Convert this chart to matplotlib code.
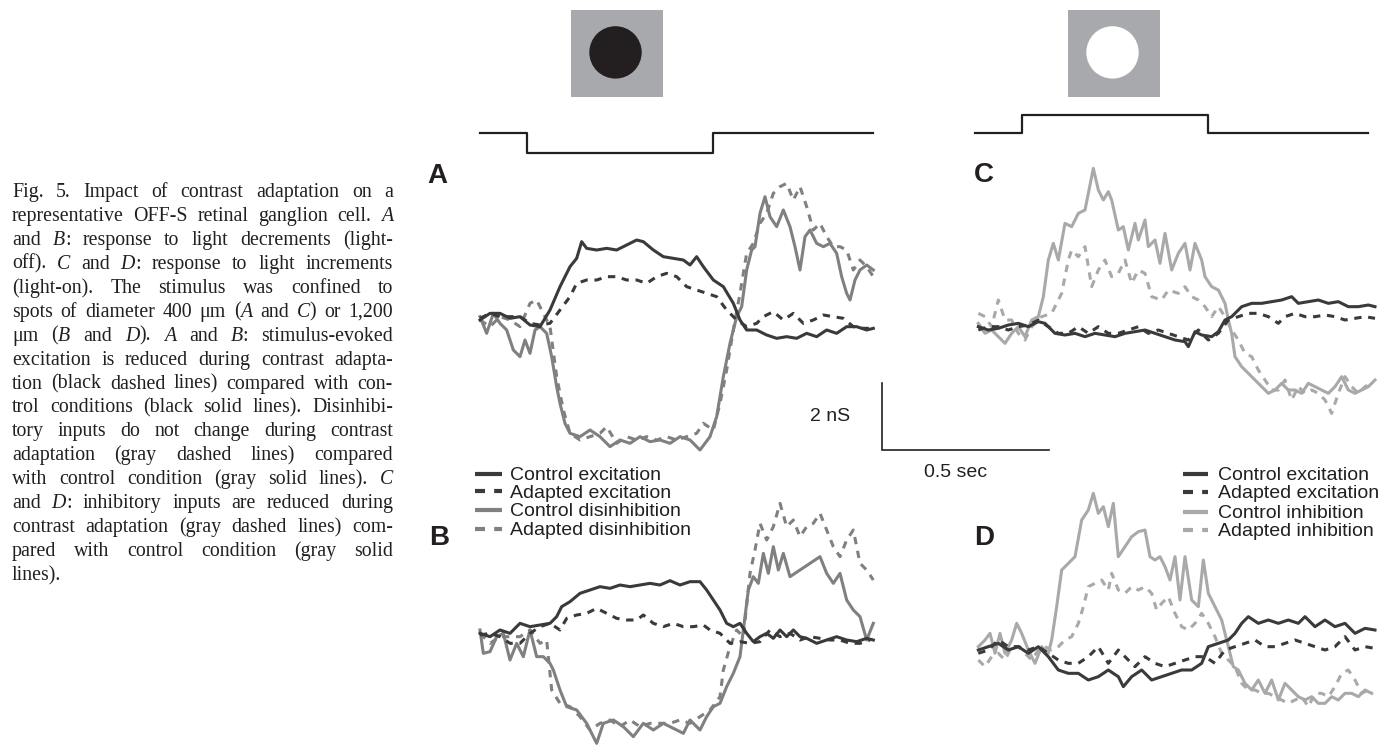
import matplotlib
matplotlib.use("Agg")
import matplotlib.pyplot as plt
from matplotlib.patches import Rectangle, Circle

# ---------------- data (time in ms, conductance in nS) ----------------
stim_t = [0, 142, 142, 700, 700, 1180]
stim_off_level = [1, 1, 0, 0, 1, 1]   # light decrement (A, B)
stim_on_level = [0, 0, 1, 1, 0, 0]    # light increment (C, D)

# Panel A
A_ce_t = [0,30,60,90,120,150,180,210,240,270,290,305,320,350,380,410,440,470,490,520,550,580,610,630,650,670,700,730,760,780,800,830,860,890,920,950,980,1010,1040,1070,1100,1130,1160,1180]
A_ce_v = [0,0.2,0.2,0.05,0.1,-0.15,-0.2,0.3,1.0,1.6,1.85,2.35,2.15,2.1,2.15,2.1,2.25,2.4,2.35,2.1,1.9,1.85,1.8,1.65,1.9,1.6,1.2,1.0,0.5,0,-0.3,-0.3,-0.45,-0.55,-0.5,-0.55,-0.4,-0.5,-0.3,-0.4,-0.2,-0.2,-0.3,-0.25]
A_ae_t = [0,30,60,90,120,150,180,210,240,270,290,320,350,380,410,440,470,500,530,560,590,620,650,680,710,740,770,800,830,850,880,910,940,970,1000,1030,1060,1090,1120,1150,1180]
A_ae_v = [0.05,0.2,0.1,0.1,0.1,-0.1,-0.15,-0.1,0.3,0.7,1.1,1.2,1.2,1.3,1.3,1.2,1.2,1.1,1.3,1.4,1.3,1.0,0.9,0.8,0.7,0.3,0,-0.2,-0.1,0.1,0.25,0,0.2,-0.1,0,0.15,0.1,0.05,-0.2,-0.25,-0.25]
A_cd_t = [0,20,40,60,80,100,120,135,150,165,180,200,215,230,240,255,270,300,330,360,390,420,450,480,510,540,570,600,630,660,690,710,730,750,770,785,800,815,825,840,855,870,890,910,930,945,960,975,990,1010,1030,1050,1070,1085,1100,1110,1125,1140,1160,1180]
A_cd_v = [0.1,-0.4,0.2,-0.1,-0.3,-0.9,-1.1,-0.6,-1.0,-0.3,-0.2,-0.4,-1.1,-2.0,-2.5,-3.1,-3.4,-3.5,-3.3,-3.5,-3.8,-3.6,-3.7,-3.5,-3.65,-3.6,-3.7,-3.5,-3.6,-3.9,-3.5,-2.9,-1.7,-0.7,0.1,0.4,1.5,2.1,2.2,3.2,3.7,3.1,2.8,3.3,2.8,2.2,1.5,2.5,2.7,2.3,2.2,2.3,2.0,1.3,0.8,0.6,1.2,1.5,1.65,1.5]
A_ad_t = [0,30,60,90,120,150,170,185,210,230,250,270,300,330,360,380,410,440,470,500,530,560,590,620,650,670,700,720,740,760,780,800,820,840,860,880,900,920,940,960,980,1000,1020,1040,1060,1080,1100,1120,1140,1160,1180]
A_ad_v = [0,-0.2,0.1,0,-0.2,0.5,0.6,0.3,-0.2,-1.7,-2.7,-3.4,-3.6,-3.5,-3.4,-3.2,-3.7,-3.5,-3.6,-3.5,-3.6,-3.5,-3.6,-3.5,-3.4,-3.1,-3.3,-2.5,-1.5,-0.3,0.8,2.0,2.3,2.9,3.2,3.8,4.0,4.1,3.6,4.0,3.4,2.7,2.9,2.5,2.2,2.2,2.1,1.5,1.8,1.6,1.3]

# Panel B
B_ce_t = [0,30,60,90,120,150,180,210,230,245,270,300,330,360,390,420,450,480,510,540,570,600,630,660,680,700,720,740,760,780,800,820,840,860,880,900,920,940,960,980,1010,1040,1070,1100,1130,1160,1180]
B_ce_v = [0.05,-0.05,0.15,0.05,0.35,0.25,0.3,0.35,0.55,0.85,1.0,1.25,1.35,1.45,1.4,1.5,1.45,1.5,1.55,1.5,1.63,1.5,1.6,1.6,1.35,1.05,0.75,0.35,0.25,0.35,0.05,-0.2,-0.05,0.05,-0.1,0.15,-0.05,0.15,-0.05,-0.1,-0.25,-0.15,-0.05,-0.15,-0.2,-0.1,-0.15]
B_ae_t = [0,30,60,90,120,150,180,210,240,260,290,320,350,380,410,440,470,490,520,550,580,610,640,670,690,720,750,780,810,840,870,900,930,960,990,1020,1050,1080,1110,1140,1170]
B_ae_v = [0,0.05,-0.05,-0.25,-0.25,0.05,0.25,0.35,0.15,0.5,0.6,0.65,0.8,0.65,0.5,0.45,0.45,0.6,0.35,0.25,0.35,0.25,0.25,0.3,0.15,0.05,-0.25,-0.2,-0.25,-0.2,0.15,-0.05,0.05,-0.15,-0.05,-0.1,-0.15,-0.15,-0.25,-0.25,-0.15]
B_cd_t = [0,10,30,50,70,90,110,130,150,170,190,210,220,240,260,290,320,350,370,400,430,460,490,520,550,580,610,630,660,680,700,720,740,760,780,790,805,820,835,850,865,880,895,910,930,960,990,1020,1040,1060,1080,1100,1120,1140,1160,1180]
B_cd_v = [0.15,-0.55,-0.5,-0.05,0.05,-0.75,-0.25,-0.65,0.15,-0.65,-0.65,-0.85,-1.05,-1.65,-2.15,-2.25,-2.65,-3.25,-2.65,-2.55,-2.75,-3.05,-2.65,-2.85,-2.65,-2.8,-2.95,-2.55,-2.85,-2.45,-2.15,-2.05,-1.55,-1.15,-0.65,0.15,1.35,1.75,1.55,2.45,1.85,2.65,1.95,2.45,1.75,1.95,2.15,2.35,1.85,1.55,1.85,1.05,0.75,0.55,-0.15,0.35]
B_ad_t = [0,30,60,90,120,150,180,200,215,240,270,300,330,360,390,420,450,480,510,540,570,600,630,660,690,720,730,750,770,790,810,825,840,860,880,900,920,940,960,980,1000,1020,1040,1060,1080,1100,1120,1140,1160,1180]
B_ad_v = [0.05,-0.25,-0.05,-0.05,-0.05,0.15,-0.25,-0.15,-1.65,-2.05,-2.15,-2.45,-2.85,-2.65,-2.55,-2.75,-2.55,-2.75,-2.65,-2.65,-2.65,-2.55,-2.65,-2.45,-2.25,-1.85,-1.05,-0.35,0.15,-0.05,1.85,2.55,3.35,2.85,3.25,3.95,3.25,3.45,2.95,3.25,3.35,3.65,3.15,2.65,2.35,2.85,3.15,2.15,1.95,1.65]

# Panel C
C_ce_t = [10,40,70,100,130,160,190,210,240,270,300,330,360,390,420,450,480,510,540,570,600,630,640,660,680,710,730,750,770,800,830,860,890,920,950,970,1000,1030,1060,1090,1120,1150,1180,1200]
C_ce_v = [0,-0.1,-0.05,0.05,0.1,0,0.15,0.1,-0.2,-0.25,-0.2,-0.3,-0.2,-0.25,-0.3,-0.2,-0.15,-0.1,-0.2,-0.3,-0.4,-0.45,-0.6,-0.15,-0.25,-0.3,-0.15,0.2,0.3,0.6,0.7,0.7,0.75,0.8,0.9,0.7,0.75,0.8,0.7,0.75,0.6,0.6,0.65,0.6]
C_ae_t = [10,40,70,100,130,160,190,220,250,280,310,340,370,400,430,460,490,520,550,580,610,640,670,700,730,760,790,820,850,880,910,930,960,990,1020,1050,1080,1110,1140,1170,1200]
C_ae_v = [-0.1,0,0,-0.1,0,0.05,0.2,0,-0.2,-0.2,0,-0.2,0,-0.2,-0.2,-0.1,0,-0.2,-0.1,-0.2,-0.3,-0.4,-0.1,-0.4,-0.2,0.2,0.3,0.4,0.4,0.3,0.1,0.3,0.4,0.3,0.3,0.35,0.3,0.2,0.25,0.3,0.25]
C_ci_t = [10,30,50,70,90,110,130,150,170,190,205,220,235,250,270,290,310,330,355,370,385,400,410,430,445,460,480,490,510,520,540,555,570,590,610,630,645,660,680,690,710,730,750,760,770,780,800,820,840,860,880,900,920,940,960,980,1000,1020,1040,1060,1080,1100,1120,1140,1160,1180,1200]
C_ci_v = [0.1,-0.2,-0.1,-0.3,-0.5,-0.2,0,-0.3,0.2,0.3,0.9,2.0,2.5,2.0,3.1,3.0,3.4,3.5,4.75,4.1,3.8,4.05,3.8,2.9,3.0,2.3,3.1,2.6,3.2,2.4,2.6,1.9,2.8,1.7,2.2,2.5,1.7,2.5,2.0,1.5,1.2,1.1,0.7,0.2,-0.2,-0.9,-1.2,-1.4,-1.6,-1.8,-2.0,-1.9,-1.7,-1.9,-1.9,-2.0,-1.7,-1.8,-1.9,-2.0,-1.8,-1.5,-1.9,-2.0,-1.9,-1.8,-1.6]
C_ai_t = [10,30,50,70,90,110,130,150,170,200,230,260,280,290,310,330,350,370,390,410,430,450,470,490,510,530,560,580,610,630,650,670,690,710,730,750,770,790,810,830,850,870,890,910,930,950,970,990,1010,1030,1050,1070,1090,1110,1130,1150,1170,1190]
C_ai_v = [0.4,0.3,0,0.8,0.2,0.2,-0.2,-0.4,0,0.3,0.4,1.0,2.0,2.3,2.1,2.4,1.2,1.7,2.0,1.5,1.6,2.0,1.3,1.7,1.6,0.9,0.8,1.1,1.0,1.2,0.9,0.8,0.6,0.3,0.6,0.3,-0.1,-0.4,-0.8,-0.9,-1.3,-1.6,-1.9,-1.9,-1.6,-2.2,-1.8,-2.0,-1.9,-2.0,-2.2,-2.6,-2.0,-1.5,-1.8,-2.0,-1.8,-1.7]

# Panel D
D_ce_t = [10,40,70,100,130,160,190,220,250,280,310,340,370,400,430,445,470,500,530,560,590,620,650,680,700,730,760,780,800,820,850,880,910,940,970,990,1020,1050,1080,1110,1140,1170,1200]
D_ce_v = [-0.1,0,0.1,-0.1,0,-0.2,0,-0.3,-0.7,-0.8,-0.8,-1.0,-0.9,-0.7,-0.9,-1.2,-0.9,-0.7,-1.0,-0.9,-0.8,-0.7,-0.7,-0.5,0,0.1,0.2,0.4,0.7,0.9,0.7,0.8,0.7,0.8,0.7,0.9,0.6,0.8,0.6,0.7,0.4,0.55,0.5]
D_ae_t = [10,40,70,100,130,160,190,220,250,280,310,340,370,400,430,450,480,510,540,570,600,630,660,690,720,750,780,810,840,870,900,930,960,990,1020,1050,1080,1110,1140,1170,1200]
D_ae_v = [-0.2,-0.1,0.2,0,0,-0.1,0,-0.2,-0.4,-0.5,-0.5,-0.3,0,-0.5,-0.1,-0.3,-0.6,-0.3,-0.5,-0.6,-0.5,-0.4,-0.3,-0.3,-0.5,-0.1,0,0.1,0.2,0,0,0.1,0.2,0.1,0,-0.1,0,0.3,-0.1,0,-0.05]
D_ci_t = [10,30,45,60,75,90,110,125,140,160,180,200,220,230,245,260,280,300,320,340,355,370,385,400,415,430,450,470,490,510,525,540,555,570,585,600,615,630,650,670,685,700,720,740,760,775,790,810,830,850,870,890,910,930,950,970,990,1010,1030,1050,1070,1090,1110,1130,1150,1170,1190]
D_ci_v = [0,0.2,0.4,-0.2,0.4,-0.2,0.2,0.7,0.4,-0.1,-0.5,0,-0.2,0.2,1.2,2.3,2.5,2.7,3.8,4.1,4.6,4.0,4.2,3.6,4.3,2.7,3.0,3.3,3.45,3.5,2.7,2.6,2.7,2.4,2.0,2.7,1.4,2.7,1.4,1.2,2.6,1.6,1.2,0.8,0,-0.6,-0.7,-1.1,-1.3,-1.0,-1.4,-1.0,-1.6,-1.1,-1.3,-1.5,-1.6,-1.5,-1.7,-1.7,-1.5,-1.6,-1.4,-1.4,-1.5,-1.3,-1.4]
D_ai_t = [10,30,50,70,90,110,130,150,170,190,210,230,250,270,290,310,325,340,360,380,400,410,430,450,470,490,510,530,545,560,580,600,620,640,660,680,700,720,740,760,780,800,820,840,860,880,900,920,940,960,980,1000,1020,1040,1060,1080,1100,1120,1140,1160,1180]
D_ai_v = [-0.4,-0.6,-0.3,-0.2,-0.4,0,0,-0.2,-0.4,-0.1,0,-0.1,0,0.2,0.3,0.7,1.2,1.8,1.9,2.0,1.7,2.2,1.7,1.6,1.8,1.7,1.8,1.6,1.1,1.3,1.5,1.0,0.6,0.5,0.7,1.0,0.7,0.3,-0.2,-0.4,-0.6,-1.1,-1.3,-1.3,-1.4,-1.4,-1.5,-1.6,-1.7,-1.6,-1.5,-1.8,-1.4,-1.4,-1.5,-1.2,-0.8,-0.7,-1.0,-1.4,-1.3]

legend_left = ["Control excitation", "Adapted excitation", "Control disinhibition", "Adapted disinhibition"]
legend_right = ["Control excitation", "Adapted excitation", "Control inhibition", "Adapted inhibition"]
panel_letters = ["A", "B", "C", "D"]
scale_ms = 500
scale_ns = 2

caption = [
    "Fig. 5. Impact of contrast adaptation on a",
    "representative OFF-S retinal ganglion cell. *A*",
    "and *B*: response to light decrements (light-",
    "off). *C* and *D*: response to light increments",
    "(light-on). The stimulus was confined to",
    "spots of diameter 400 \u03bcm (*A* and *C*) or 1,200",
    "\u03bcm (*B* and *D*). *A* and *B*: stimulus-evoked",
    "excitation is reduced during contrast adapta-",
    "tion (black dashed lines) compared with con-",
    "trol conditions (black solid lines). Disinhibi-",
    "tory inputs do not change during contrast",
    "adaptation (gray dashed lines) compared",
    "with control condition (gray solid lines). *C*",
    "and *D*: inhibitory inputs are reduced during",
    "contrast adaptation (gray dashed lines) com-",
    "pared with control condition (gray solid",
    "lines).",
]

# ---------------- styles ----------------
W, H = 1386, 748
PX_PER_MS = 1.0 / 3.0
PX_PER_NS = 33.33
C_EXC = "#3a3a3a"
C_DIS = "#808080"
C_INH = "#a9a9a9"
C_INK = "#231f20"
LW = 2.2
DASH = (0, (2.4, 2.2))
SANS = ["Liberation Sans", "DejaVu Sans"]
SERIF = ["Liberation Serif", "DejaVu Serif"]

fig = plt.figure(figsize=(W / 100, H / 100), dpi=100)
fig.patch.set_facecolor("white")

ax_px = fig.add_axes([0, 0, 1, 1])
ax_px.set_xlim(0, W)
ax_px.set_ylim(H, 0)
ax_px.axis("off")


def data_axes(x0_px, base_px, px_per_unit):
    ax = fig.add_axes([0, 0, 1, 1])
    ax.set_xlim(-x0_px / PX_PER_MS, (W - x0_px) / PX_PER_MS)
    ax.set_ylim((base_px - H) / px_per_unit, base_px / px_per_unit)
    ax.axis("off")
    ax.patch.set_alpha(0)
    return ax


axA = data_axes(480, 320, PX_PER_NS)
axB = data_axes(480, 635, PX_PER_NS)
axC = data_axes(975, 326.67, PX_PER_NS)
axD = data_axes(975, 646.67, PX_PER_NS)
ax_sA = data_axes(480, 152.7, 19.4)
ax_sC = data_axes(975, 133.3, 18.3)

ax_sA.plot(stim_t, stim_off_level, color=C_INK, lw=1.6)
ax_sC.plot(stim_t, stim_on_level, color=C_INK, lw=1.6)


def traces(ax, ce, ae, gi, ga, gcol):
    ax.plot(*gi, color=gcol, lw=LW, solid_joinstyle="round")
    ax.plot(*ga, color=gcol, lw=LW, linestyle=DASH)
    ax.plot(*ae, color=C_EXC, lw=LW, linestyle=DASH)
    ax.plot(*ce, color=C_EXC, lw=LW, solid_joinstyle="round")


traces(axA, (A_ce_t, A_ce_v), (A_ae_t, A_ae_v), (A_cd_t, A_cd_v), (A_ad_t, A_ad_v), C_DIS)
traces(axB, (B_ce_t, B_ce_v), (B_ae_t, B_ae_v), (B_cd_t, B_cd_v), (B_ad_t, B_ad_v), C_DIS)
traces(axC, (C_ce_t, C_ce_v), (C_ae_t, C_ae_v), (C_ci_t, C_ci_v), (C_ai_t, C_ai_v), C_INH)
traces(axD, (D_ce_t, D_ce_v), (D_ae_t, D_ae_v), (D_ci_t, D_ci_v), (D_ai_t, D_ai_v), C_INH)

# scale bar (in panel A data units)
sx0, sy0 = 1206, -3.9
axA.plot([sx0, sx0, sx0 + scale_ms], [sy0 + scale_ns, sy0, sy0], color=C_INK, lw=1.2,
         clip_on=False, solid_joinstyle="miter")
ax_px.text(830, 421, "%d nS" % scale_ns, fontsize=14, family=SANS, ha="center",
           va="baseline", color=C_INK)
ax_px.text(956, 477, "%.1f sec" % (scale_ms / 1000), fontsize=14, family=SANS, ha="center",
           va="baseline", color=C_INK)

# stimulus icons
ax_px.add_patch(Rectangle((571, 10), 92, 87, facecolor="#a7a9ac", edgecolor="none"))
ax_px.add_patch(Circle((615.5, 52.4), 26.2, facecolor=C_INK, edgecolor="none"))
ax_px.add_patch(Rectangle((1068, 10), 92, 87, facecolor="#a7a9ac", edgecolor="none"))
ax_px.add_patch(Circle((1112.5, 52.4), 26.2, facecolor="white", edgecolor="none"))

# panel letters
for letter, (lx, ly) in zip(panel_letters, [(427, 183), (429, 545), (974, 182), (974, 545)]):
    ax_px.text(lx, ly, letter, fontsize=20, weight="bold", family=SANS, va="baseline",
               ha="left", color=C_INK)

# legends
def legend(x_h0, x_h1, x_txt, baselines, labels, gcol):
    styles = [(C_EXC, "-"), (C_EXC, DASH), (gcol, "-"), (gcol, DASH)]
    for lab, yb, (col, ls) in zip(labels, baselines, styles):
        yc = yb - 6.5
        ax_px.plot([x_h0, x_h1], [yc, yc], color=col, lw=3.0, linestyle=ls,
                   solid_capstyle="butt", dash_capstyle="butt")
        ax_px.text(x_txt, yb, lab, fontsize=14, family=SANS, va="baseline", ha="left",
                   color=C_INK)


legend(475, 502, 510, [480, 497.5, 516.5, 535], legend_left, C_DIS)
legend(1183, 1208, 1218, [480, 498, 518, 536.5], legend_right, C_INH)

# caption, fully justified
renderer = fig.canvas.get_renderer()
cap_left, cap_right = 12, 393
cap_y0, cap_dy = 197, 23.94
cap_fs = 14.3
space_px = cap_fs * 100 / 72 * 0.25


def segments(word):
    parts = word.split("*")
    return [(p, i % 2 == 1) for i, p in enumerate(parts) if p]


for li, line in enumerate(caption):
    yb = cap_y0 + li * cap_dy
    words = line.split(" ")
    word_objs = []
    for w in words:
        objs = []
        for s, ital in segments(w):
            t = ax_px.text(0, yb, s, fontsize=cap_fs, family=SERIF,
                           style="italic" if ital else "normal", va="baseline",
                           ha="left", color=C_INK)
            wpx = t.get_window_extent(renderer).width
            objs.append((t, wpx))
        word_objs.append(objs)
    widths = [sum(w for _, w in objs) for objs in word_objs]
    last = li == len(caption) - 1
    if last or len(words) == 1:
        gap = space_px
    else:
        gap = (cap_right - cap_left - sum(widths)) / (len(words) - 1)
    x = cap_left
    for objs, ww in zip(word_objs, widths):
        xx = x
        for t, wpx in objs:
            t.set_position((xx, yb))
            xx += wpx
        x += ww + gap

fig.savefig("out.png", dpi=100, facecolor="white")
